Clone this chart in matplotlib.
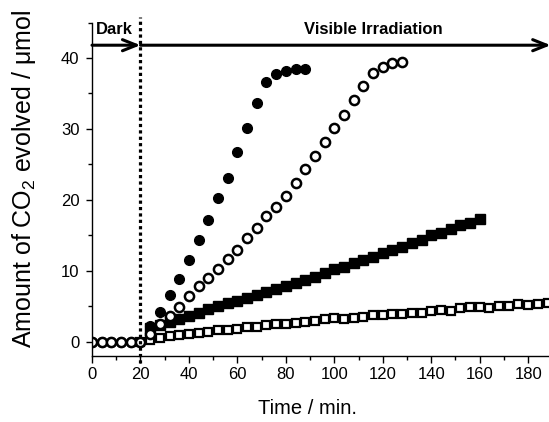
import matplotlib
matplotlib.use("Agg")
import matplotlib.pyplot as plt
import numpy as np

plt.rcParams['font.family'] = ['Liberation Sans', 'DejaVu Sans']
plt.rcParams['mathtext.fontset'] = 'custom'
plt.rcParams['mathtext.rm'] = 'Liberation Sans'

# ---- data ----
dark_t = [0, 4, 8, 12, 16, 20]
dark_v = [0, 0, 0, 0, 0, 0]

fc_t = [24, 28, 32, 36, 40, 44, 48, 52, 56, 60, 64, 68, 72, 76, 80, 84, 88]
fc_v = [2.2, 4.2, 6.6, 8.9, 11.5, 14.3, 17.1, 20.2, 23.1, 26.7, 30.2, 33.6,
        36.6, 37.7, 38.2, 38.4, 38.5]

oc_t = [24, 28, 32, 36, 40, 44, 48, 52, 56, 60, 64, 68, 72, 76, 80, 84, 88,
        92, 96, 100, 104, 108, 112, 116, 120, 124, 128]
oc_v = [1.1, 2.5, 3.7, 4.9, 6.4, 7.8, 9.0, 10.2, 11.7, 13.0, 14.7, 16.0,
        17.7, 19.0, 20.6, 22.4, 24.4, 26.2, 28.1, 30.1, 32.0, 34.1, 36.1,
        37.9, 38.7, 39.3, 39.4]

fs_t = [24, 28, 32, 36, 40, 44, 48, 52, 56, 60, 64, 68, 72, 76, 80, 84, 88,
        92, 96, 100, 104, 108, 112, 116, 120, 124, 128, 132, 136, 140, 144,
        148, 152, 156, 160]
fs_v = [2.0, 2.4, 2.8, 3.2, 3.6, 4.1, 4.6, 5.0, 5.5, 5.8, 6.2, 6.6, 7.0, 7.4,
        7.8, 8.3, 8.7, 9.2, 9.7, 10.2, 10.6, 11.1, 11.5, 11.9, 12.5, 12.9,
        13.4, 13.9, 14.4, 15.0, 15.4, 15.9, 16.4, 16.8, 17.3]

os_t = [20, 24, 28, 32, 36, 40, 44, 48, 52, 56, 60, 64, 68, 72, 76, 80, 84,
        88, 92, 96, 100, 104, 108, 112, 116, 120, 124, 128, 132, 136, 140,
        144, 148, 152, 156, 160, 164, 168, 172, 176, 180, 184, 188]
os_v = [0.0, 0.3, 0.6, 0.8, 1.0, 1.1, 1.3, 1.4, 1.65, 1.65, 1.8, 2.1, 2.1,
        2.35, 2.45, 2.55, 2.7, 2.85, 2.95, 3.15, 3.3, 3.25, 3.3, 3.55, 3.8,
        3.8, 3.9, 3.9, 4.1, 4.1, 4.4, 4.5, 4.4, 4.7, 4.85, 4.95, 4.7, 5.05,
        5.1, 5.3, 5.2, 5.35, 5.5]

x_ticks = [0, 20, 40, 60, 80, 100, 120, 140, 160, 180]
y_ticks = [0, 10, 20, 30, 40]

# ---- figure ----
fig = plt.figure(figsize=(5.49, 4.22), dpi=100)
ax = fig.add_axes([92 / 549, 1 - 356 / 422, 1 - 92 / 549, (356 - 22.5) / 422])

ax.plot(fs_t, fs_v, ls='none', marker='s', ms=7.0,
        mfc='black', mec='black', mew=1.0)
ax.plot(os_t, os_v, ls='none', marker='s', ms=6.0,
        mfc='white', mec='black', mew=1.6)
ax.plot(dark_t + fc_t, dark_v + fc_v, ls='none', marker='o', ms=7.0,
        mfc='black', mec='black', mew=1.0)
ax.plot(dark_t + oc_t, dark_v + oc_v, ls='none', marker='o', ms=6.6,
        mfc='white', mec='black', mew=1.8)

ax.set_xlim(0, 188.6)
ax.set_ylim(-2, 45)
ax.set_xticks(x_ticks)
ax.set_yticks(y_ticks)
ax.set_xticks(np.arange(10, 190, 20), minor=True)
ax.set_yticks([5, 15, 25, 35, 45], minor=True)

for s in ['top', 'right']:
    ax.spines[s].set_visible(False)
for s in ['left', 'bottom']:
    ax.spines[s].set_linewidth(1.0)

ax.tick_params(axis='both', which='major', direction='out', width=1.0,
               labelsize=12)
ax.tick_params(axis='x', which='major', length=5, pad=3)
ax.tick_params(axis='y', which='major', length=4, pad=5)
ax.tick_params(axis='both', which='minor', direction='out', length=3,
               width=1.0)

# dotted divider
ax.plot([20, 20], [-3.0, 45.8], color='black', lw=2.3, ls=(0, (1, 1)),
        clip_on=False, solid_capstyle='butt', dash_capstyle='butt')

# arrows
arrow_y = 41.8
astyle = '->,head_length=1.0,head_width=0.4'
ax.annotate('', xy=(20, arrow_y), xytext=(0, arrow_y),
            arrowprops=dict(arrowstyle=astyle, lw=2.2, color='black',
                            shrinkA=0, shrinkB=0, mutation_scale=10),
            annotation_clip=False)
ax.annotate('', xy=(189.3, arrow_y), xytext=(20, arrow_y),
            arrowprops=dict(arrowstyle=astyle, lw=2.2, color='black',
                            shrinkA=0, shrinkB=0, mutation_scale=10),
            annotation_clip=False)

ax.text(1.6, 43.4, 'Dark', fontsize=12, fontweight='bold', ha='left',
        va='baseline')
ax.text(115.9, 43.4, 'Visible Irradiation', fontsize=12,
        fontweight='bold', ha='center', va='baseline')

fig.text(307 / 549, 1 - 414 / 422, 'Time / min.', fontsize=14.5,
         ha='center', va='baseline')
fig.text(24 / 549, 1 - 179 / 422, r'Amount of CO$_2$ evolved / μmol',
         rotation=90, fontsize=18, ha='center', va='center')

fig.savefig('out.png', dpi=100)
